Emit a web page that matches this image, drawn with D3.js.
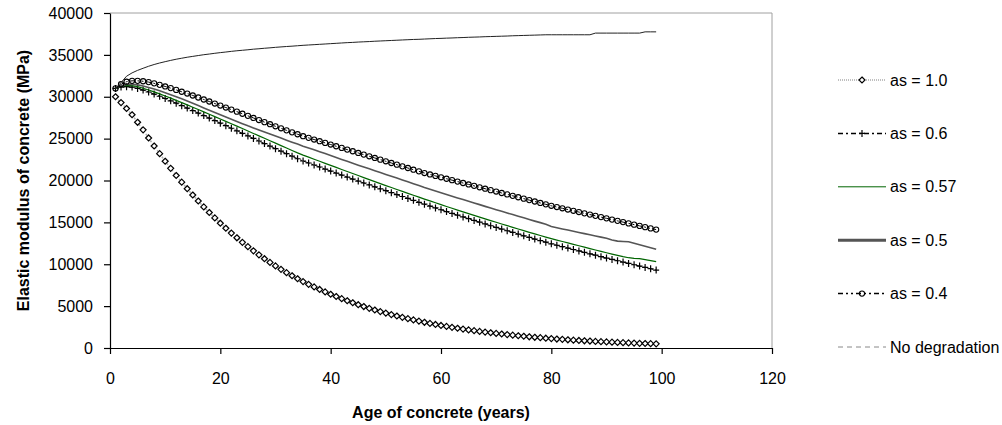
<!DOCTYPE html>
<html>
<head>
<meta charset="utf-8">
<script src="https://cdn.jsdelivr.net/npm/d3@7"></script>
<style>
  body { margin: 0; background: #fff; }
  text { font-family: "Liberation Sans", Arial, sans-serif; }
</style>
</head>
<body>
<div id="chart"></div>
<script>
// ages (years) shared by every series
var years = [1,2,3,4,5,6,7,8,9,10,11,12,13,14,15,16,17,18,19,20,
  21,22,23,24,25,26,27,28,29,30,31,32,33,34,35,36,37,38,39,40,
  41,42,43,44,45,46,47,48,49,50,51,52,53,54,55,56,57,58,59,60,
  61,62,63,64,65,66,67,68,69,70,71,72,73,74,75,76,77,78,79,80,
  81,82,83,84,85,86,87,88,89,90,91,92,93,94,95,96,97,98,99];

// elastic modulus (MPa)
var noDegradation = [31000,31700,32450,32850,33150,33400,33640,33850,34030,34190,
  34340,34480,34600,34720,34820,34920,35020,35100,35190,35270,
  35340,35420,35490,35550,35610,35680,35730,35790,35840,35900,
  35950,36000,36040,36090,36140,36180,36220,36260,36300,36340,
  36380,36420,36460,36490,36530,36560,36590,36630,36660,36690,
  36720,36750,36780,36810,36840,36860,36890,36920,36950,36970,
  37000,37020,37050,37070,37100,37120,37140,37170,37190,37210,
  37230,37250,37280,37300,37320,37340,37360,37380,37400,37400,
  37400,37400,37400,37400,37400,37400,37400,37600,37600,37600,
  37600,37600,37600,37600,37600,37600,37750,37750,37750];

var as10 = [30000,29300,28600,27850,26950,26050,25080,24120,23200,22300,
  21450,20600,19800,19020,18270,17550,16850,16180,15530,14900,
  14300,13720,13160,12620,12100,11600,11120,10660,10220,9800,
  9390,9000,8630,8270,7930,7600,7290,6990,6700,6420,
  6150,5890,5640,5400,5170,4950,4740,4540,4350,4170,
  3990,3820,3660,3500,3350,3210,3070,2940,2810,2690,
  2580,2470,2360,2260,2160,2070,1980,1900,1820,1740,
  1670,1600,1530,1460,1400,1340,1280,1230,1170,1120,
  1070,1030,980,940,900,860,830,790,760,730,
  700,670,640,610,590,560,540,520,500];

var as06 = [31000,31150,31200,31150,31000,30800,30570,30320,30060,29790,
  29510,29230,28940,28650,28350,28050,27750,27450,27150,26850,
  26545,26240,25935,25630,25325,25020,24715,24410,24105,23800,
  23500,23200,22900,22600,22330,22090,21850,21610,21370,21130,
  20890,20650,20410,20170,19930,19700,19470,19240,19010,18780,
  18550,18320,18090,17860,17630,17400,17170,16950,16730,16510,
  16290,16070,15860,15650,15440,15230,15020,14810,14600,14400,
  14200,14000,13800,13600,13400,13200,13010,12820,12630,12440,
  12270,12100,11930,11760,11590,11420,11250,11080,10910,10740,
  10580,10420,10260,10100,9940,9780,9620,9460,9300];

var as057 = [31000,31250,31350,31330,31200,31020,30810,30580,30340,30090,
  29830,29570,29300,29030,28750,28470,28190,27910,27630,27350,
  27065,26780,26490,26200,25910,25620,25330,25040,24750,24460,
  24170,23880,23590,23300,23030,22790,22540,22300,22050,21810,
  21570,21320,21080,20830,20590,20350,20110,19870,19630,19390,
  19160,18930,18700,18470,18240,18010,17780,17560,17340,17120,
  16900,16680,16470,16260,16050,15840,15630,15420,15210,15010,
  14810,14610,14410,14210,14010,13810,13620,13430,13240,13060,
  12890,12720,12550,12380,12210,12040,11870,11700,11530,11370,
  11210,11060,10910,10780,10700,10680,10560,10430,10310];

var as05 = [31000,31300,31480,31500,31420,31280,31110,30920,30710,30490,
  30250,30010,29750,29490,29230,28950,28670,28400,28120,27850,
  27585,27320,27055,26790,26525,26280,26035,25790,25545,25300,
  25060,24820,24580,24350,24100,23880,23660,23440,23210,22980,
  22750,22520,22290,22060,21830,21610,21390,21170,20950,20730,
  20510,20290,20070,19850,19620,19400,19170,18960,18750,18540,
  18330,18120,17920,17720,17520,17320,17120,16910,16710,16510,
  16320,16120,15930,15730,15540,15340,15150,14970,14780,14500,
  14360,14220,14080,13940,13800,13660,13520,13380,13240,13100,
  12900,12760,12720,12690,12500,12320,12140,11960,11780];

var as04 = [31000,31500,31800,31900,31900,31850,31750,31600,31420,31230,
  31030,30820,30600,30380,30150,29910,29670,29430,29190,28950,
  28710,28470,28220,27970,27720,27470,27220,26970,26720,26470,
  26230,25990,25750,25520,25290,25090,24890,24690,24490,24290,
  24090,23890,23690,23490,23290,23090,22890,22690,22490,22290,
  22090,21890,21690,21490,21290,21090,20890,20720,20550,20380,
  20210,20040,19870,19700,19530,19360,19190,19020,18850,18680,
  18510,18340,18170,18000,17830,17660,17490,17320,17150,16980,
  16830,16680,16530,16380,16230,16080,15930,15780,15630,15480,
  15330,15180,15030,14880,14730,14580,14430,14280,14140];

// axis ticks and legend text
var xTicks = [0, 20, 40, 60, 80, 100, 120];
var yTicks = [0, 5000, 10000, 15000, 20000, 25000, 30000, 35000, 40000];
var legendLabels = ["as = 1.0", "as = 0.6", "as = 0.57", "as = 0.5", "as = 0.4", "No degradation"];

// SVG dimensions
var svgWidth = 1002;
var svgHeight = 425;

var margin = {
  top: 13,
  right: 230,
  bottom: 77,
  left: 110
};

var width = svgWidth - margin.left - margin.right;
var height = svgHeight - margin.top - margin.bottom;

var svg = d3.select("#chart")
  .append("svg")
  .attr("width", svgWidth)
  .attr("height", svgHeight);

var chartGroup = svg.append("g")
  .attr("transform", `translate(${margin.left}, ${margin.top})`);

var xScale = d3.scaleLinear().domain([0, 120]).range([0, width]);
var yScale = d3.scaleLinear().domain([0, 40000]).range([height, 0]);

// gray plot frame (top and right)
chartGroup.append("path")
  .attr("d", `M0,0H${width}V${height}`)
  .attr("fill", "none")
  .attr("stroke", "#a0a0a0")
  .attr("stroke-width", 1);

// axes
var bottomAxis = d3.axisBottom(xScale).tickValues(xTicks).tickSize(6).tickSizeOuter(0).tickPadding(19);
var leftAxis = d3.axisLeft(yScale).tickValues(yTicks).tickSize(6).tickSizeOuter(0).tickPadding(11)
  .tickFormat(d3.format("d"));

var xAxisG = chartGroup.append("g")
  .attr("transform", `translate(0, ${height})`)
  .call(bottomAxis);

var yAxisG = chartGroup.append("g")
  .call(leftAxis);

[xAxisG, yAxisG].forEach(function(g) {
  g.selectAll("path, line").attr("stroke", "#000").attr("stroke-width", 1.2);
  g.selectAll("text").attr("font-size", 16).attr("fill", "#000")
    .style("font-family", "'Liberation Sans', Arial, sans-serif");
});

// series definitions
var series = [
  { values: as10, stroke: "#b0b0b0", width: 1.5, dash: "2,2", marker: "diamond" },
  { values: as06, stroke: "#000", width: 1, dash: "6,2,2,2", marker: "plus" },
  { values: as057, stroke: "#006400", width: 1.2, dash: null, marker: null },
  { values: as05, stroke: "#555", width: 1.6, dash: null, marker: null },
  { values: as04, stroke: "#000", width: 1, dash: "6,2,2,2,2,2", marker: "circle" },
  { values: noDegradation, stroke: "#222", width: 1, dash: null, marker: null }
];

var line = d3.line()
  .x(function(d) { return xScale(d[0]); })
  .y(function(d) { return yScale(d[1]); });

function drawMarker(g, type, x, y) {
  if (type === "diamond") {
    g.append("path")
      .attr("d", `M${x},${y - 3}L${x + 3},${y}L${x},${y + 3}L${x - 3},${y}Z`)
      .attr("fill", "#fff").attr("stroke", "#000").attr("stroke-width", 1.2);
  } else if (type === "plus") {
    g.append("path")
      .attr("d", `M${x - 3},${y}H${x + 3}M${x},${y - 3.5}V${y + 3.5}`)
      .attr("stroke", "#000").attr("stroke-width", 1.2);
  } else if (type === "circle") {
    g.append("circle")
      .attr("cx", x).attr("cy", y).attr("r", 2.6)
      .attr("fill", "none").attr("stroke", "#000").attr("stroke-width", 1.1);
  }
}

series.forEach(function(s) {
  var pts = years.map(function(yr, i) { return [yr, s.values[i]]; });
  chartGroup.append("path")
    .datum(pts)
    .attr("d", line)
    .attr("fill", "none")
    .attr("stroke", s.stroke)
    .attr("stroke-width", s.width)
    .attr("stroke-dasharray", s.dash);
  if (s.marker) {
    var mg = chartGroup.append("g");
    pts.forEach(function(p) {
      drawMarker(mg, s.marker, xScale(p[0]), yScale(p[1]));
    });
  }
});

// legend
var legendStyles = [
  { stroke: "#808080", width: 1, dash: "1,1", marker: "diamond" },
  { stroke: "#000", width: 1.5, dash: "5,3,2,3", marker: "plus" },
  { stroke: "#006400", width: 1, dash: null, marker: null },
  { stroke: "#555", width: 3, dash: null, marker: null },
  { stroke: "#000", width: 1.5, dash: "5,3,2,3,2,3", marker: "circle" },
  { stroke: "#888", width: 1, dash: "5,4", marker: null }
];

var legend = svg.append("g").attr("transform", "translate(838, 80)");

legendLabels.forEach(function(label, i) {
  var st = legendStyles[i];
  var row = legend.append("g").attr("transform", `translate(0, ${i * 53.4})`);
  row.append("line")
    .attr("x1", 0).attr("x2", 48).attr("y1", 0).attr("y2", 0)
    .attr("stroke", st.stroke)
    .attr("stroke-width", st.width)
    .attr("stroke-dasharray", st.dash);
  if (st.marker) drawMarker(row, st.marker, 24, 0);
  row.append("text")
    .attr("x", 52)
    .attr("y", 0)
    .attr("dy", "0.35em")
    .attr("font-size", 16)
    .text(label);
});

// axis labels
chartGroup.append("text")
  .attr("transform", "rotate(-90)")
  .attr("y", 0 - margin.left + 23)
  .attr("x", 0 - (height / 2))
  .attr("dy", "0.35em")
  .attr("text-anchor", "middle")
  .attr("font-size", 16)
  .attr("font-weight", "bold")
  .text("Elastic modulus of concrete (MPa)");

chartGroup.append("text")
  .attr("x", 331)
  .attr("y", height + 64)
  .attr("dy", "0.35em")
  .attr("text-anchor", "middle")
  .attr("font-size", 16)
  .attr("font-weight", "bold")
  .text("Age of concrete (years)");
</script>
</body>
</html>
